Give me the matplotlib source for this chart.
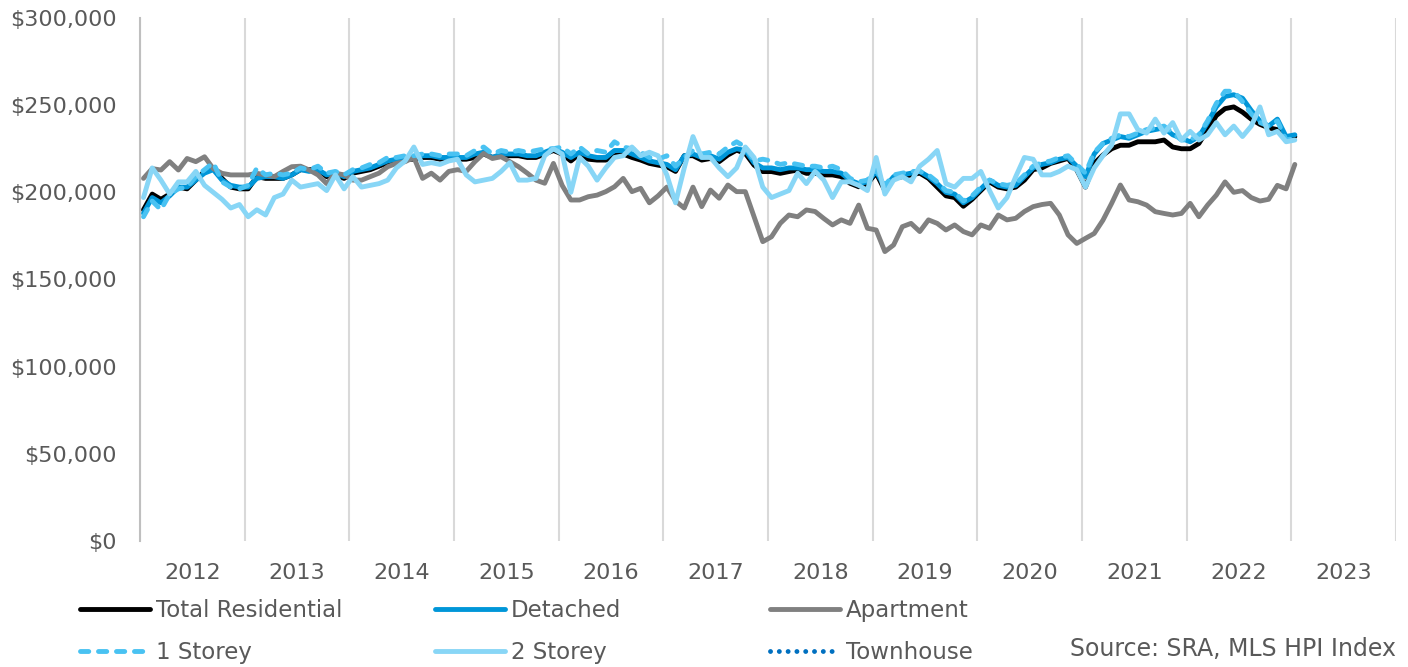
import numpy as np
import matplotlib.pyplot as plt
from matplotlib.ticker import FuncFormatter

# MLS HPI benchmark price, monthly Jan 2012 - Jan 2023, in $ thousands
first_year = 2012
years = list(range(2012, 2024))

total_residential = [
    190, 199, 196, 199, 203, 202, 207, 212, 214, 208, 203, 202,
    202, 209, 208, 208, 208, 210, 213, 213, 213, 209, 210, 208,
    211, 212, 213, 215, 217, 218, 219, 219, 220, 220, 219, 219,
    219, 219, 220, 222, 220, 221, 221, 221, 220, 220, 222, 224,
    222, 218, 222, 219, 218.5, 218.5, 221, 222, 220, 218.5, 216.6, 215.6,
    214.7, 212, 221, 221, 218.5, 219.4, 217.6, 221.4, 224.2, 222.3, 215.6, 211.9,
    211.9, 210.9, 211.9, 212.8, 210.9, 210.9, 210, 210, 209, 205.2, 203.2, 205,
    211, 201, 208, 209, 210, 211, 208, 203, 198, 197, 192, 196,
    201, 206, 203, 202, 203, 207, 213, 214, 216.6, 218, 219.5, 212.8,
    203, 216.6, 221.4, 225, 227, 227, 229, 229, 229, 230, 226, 225,
    225, 228, 236, 244, 248, 249, 246, 242, 239, 237, 236, 231,
    232,
]
detached = [
    188, 197, 194, 198, 203, 203, 207, 211, 213, 207, 204, 203,
    203, 208, 209, 209, 208, 210, 213, 212, 213, 210, 211, 209,
    212, 213, 214, 216, 218, 219, 220, 220, 221, 221, 220, 220,
    220, 220, 222, 223, 220, 222, 222, 222, 221, 221, 223, 225,
    223, 220, 223, 221, 220, 220, 224, 224, 222, 220, 218, 217,
    216, 213, 221, 222, 220, 221, 219, 223, 225, 224, 217, 214,
    214, 213, 214, 214, 213, 213, 212, 212, 211, 207, 205, 206,
    212, 203, 209, 210, 211, 212, 209, 205, 200, 199, 194, 197,
    202, 207, 204, 203, 204, 209, 214, 216, 217, 219, 220, 215,
    209, 222, 228, 230, 232, 231, 233, 235, 236, 237, 233, 231,
    229, 232, 240, 249, 255, 256, 254, 247, 241, 238, 242, 232,
    233,
]
apartment = [
    208, 213.6, 212.8, 217.6, 212.8, 219.4, 217.6, 220.4, 213.6, 210.9, 210, 210,
    210, 210.9, 210, 209, 212, 214.7, 215, 212.8, 210, 205, 211, 210,
    207, 207, 209, 211, 214.7, 216.6, 217.6, 220, 208, 211, 207, 212,
    213, 212, 217.6, 222.3, 219.4, 220.4, 217.6, 214.7, 211, 207, 205.2, 216.6,
    204, 195.6, 195.6, 197.5, 198.4, 200.4, 203.2, 208, 200.4, 202.3, 194, 198,
    203, 195, 191, 203, 191.8, 201.3, 196.6, 204.2, 200.4, 200.4, 186, 171.7,
    174.5, 182.2, 187, 186, 189.9, 189, 185, 181.3, 184.2, 182.2, 192.7, 179.4,
    178.4, 166, 169.8, 180.3, 182.2, 177.5, 184.2, 182.2, 178.4, 181.3, 177.5, 175.6,
    181.3, 179.4, 187, 184.2, 185.1, 189, 191.8, 193, 193.7, 187, 175.6, 170.7,
    173.6, 176.4, 184, 193.7, 204.2, 195.6, 194.6, 192.7, 188.9, 187.9, 187, 187.9,
    193.7, 186, 192.7, 198.4, 206, 200, 201, 197, 195, 196, 204, 202,
    216,
]
one_storey = [
    186, 195, 190, 199, 202, 203, 209, 213, 217, 206, 203, 202,
    204, 214, 210, 211, 210, 211, 214, 213, 215, 211, 212, 210,
    213, 214, 216, 217, 220, 220, 221, 221, 222, 222, 221, 222,
    222, 221, 224, 226, 222, 224, 223, 224, 223, 224, 225, 225,
    226, 222, 226, 222, 224, 223, 229, 226, 225, 223, 220, 219,
    221, 215, 220, 224, 222, 223, 222, 226, 229, 226, 218, 219,
    218, 216, 217, 216, 215, 215, 214, 215, 213, 208, 206, 207,
    213, 204, 210, 211, 212, 212, 210, 206, 201, 200, 195, 198,
    203, 207, 205, 204, 205, 210, 215, 217, 218, 220, 221, 216,
    211, 223, 228, 231, 233, 232, 234, 236, 237, 238, 234, 230,
    230, 233, 241, 251, 258, 258, 252, 245, 240, 238, 241, 230,
    231,
]
two_storey = [
    197, 214, 207, 199, 206, 206, 212, 204, 200, 196, 191, 193,
    186, 190, 187, 197, 199, 207, 203, 204, 205, 201, 210, 202,
    209, 203, 204, 205, 207, 214, 218, 226, 216, 217, 216, 218,
    219, 210, 206, 207, 208, 212, 217, 207, 207, 208, 221, 225,
    222, 200, 220, 215, 207, 214, 220, 221, 226, 221, 223, 221,
    210, 194, 214, 232, 220, 220, 214, 209, 214, 226, 220, 203,
    197, 199, 201, 211, 205, 212, 207, 197, 206, 206, 204, 201,
    220, 199, 207, 209, 206, 215, 219, 224, 205, 203, 208, 208,
    212, 201, 191, 197, 209, 220, 219, 210, 210, 212, 215, 213,
    203, 214, 221, 227, 245, 245, 236, 234, 242, 234, 240, 230,
    235, 230, 233, 240, 233, 238, 232, 238, 249, 233, 235, 229,
    230,
]
townhouse = []  # no values plotted, legend entry only

series = [
    ("Total Residential", total_residential, "#000000", "-"),
    ("Detached", detached, "#0096D8", "-"),
    ("Apartment", apartment, "#808080", "-"),
    ("1 Storey", one_storey, "#49C2F2", (0, (1.7, 2.0))),
    ("2 Storey", two_storey, "#88D6F6", "-"),
    ("Townhouse", townhouse, "#0070C0", (0, (0.01, 1.8))),
]

text_color = "#595959"
plt.rcParams["font.family"] = "DejaVu Sans"

fig = plt.figure(figsize=(14.08, 6.67), dpi=100)
ax = fig.add_axes([140 / 1408, 126 / 667, 1256 / 1408, 523 / 667])

n_months = (years[-1] - first_year) * 12 + 12
lines = {}
for name, vals, color, style in series:
    vals = np.asarray(vals, dtype=float) * 1000
    x = np.arange(len(vals)) + 0.4
    ln, = ax.plot(x, vals, color=color, lw=3.5, linestyle=style,
                  solid_joinstyle="round", solid_capstyle="round",
                  dash_capstyle="round", dash_joinstyle="round", label=name)
    lines[name] = ln

ax.set_xlim(0, n_months)
ax.set_ylim(0, 300000)
ax.set_yticks(np.arange(0, 300001, 50000))
ax.yaxis.set_major_formatter(FuncFormatter(lambda v, p: f"${v:,.0f}"))

ax.set_xticks(np.arange(0, n_months + 1, 12))
ax.set_xticklabels([])
ax.set_xticks(np.arange(6, n_months, 12), minor=True)
ax.set_xticklabels([str(y) for y in years], minor=True)
ax.tick_params(axis="x", which="both", length=0, pad=16, labelsize=16, colors=text_color)
ax.tick_params(axis="y", length=0, pad=17, labelsize=16, colors=text_color)

ax.grid(axis="x", which="major", color="#D9D9D9", lw=1.5)
for side in ["top", "right", "bottom"]:
    ax.spines[side].set_visible(False)
ax.spines["left"].set_color("#BFBFBF")
ax.spines["left"].set_linewidth(1.5)

# legend in three columns, Excel style
columns = [("Total Residential", "1 Storey"), ("Detached", "2 Storey"), ("Apartment", "Townhouse")]
col_x = [80, 435, 770]
for names, cx in zip(columns, col_x):
    leg = fig.legend([lines[n] for n in names], list(names), loc="upper left",
                     bbox_to_anchor=(cx / 1408, 1 - 599 / 667), frameon=False,
                     fontsize=16.5, handlelength=3.05, handletextpad=0.26,
                     labelspacing=0.85, borderpad=0, borderaxespad=0)
    for t in leg.get_texts():
        t.set_color(text_color)

fig.text(1396 / 1408, 1 - 649 / 667, "Source: SRA, MLS HPI Index", ha="right", va="center",
         fontsize=17, color=text_color)

fig.savefig("out.png", dpi=100)
